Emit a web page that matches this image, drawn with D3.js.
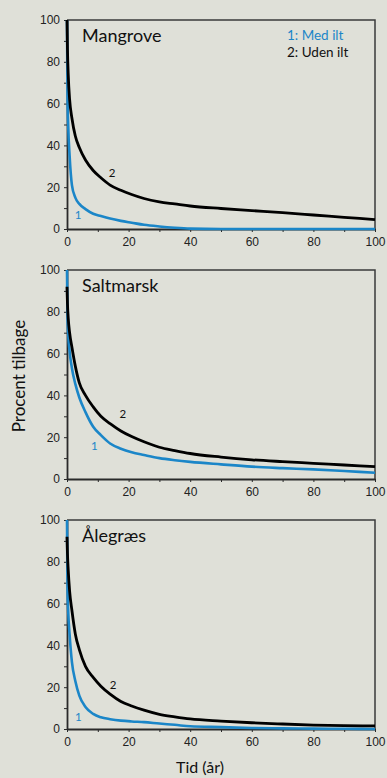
<!DOCTYPE html>
<html>
<head>
<meta charset="utf-8">
<script src="https://cdn.jsdelivr.net/npm/d3@7"></script>
<style>
  body { margin: 0; background: #dfe0d8; }
  svg { display: block; }
  .tick text { font-family: "Liberation Sans", Arial, sans-serif; font-size: 12px; fill: #222; }
  .lbl { font-family: Lato, "Open Sans", sans-serif; }
</style>
</head>
<body>
<svg id="chart" width="387" height="778"></svg>
<script>
// Data: tid (år) and procent tilbage
const years = [0, 0.15, 0.4, 0.85, 1.6, 2.7, 4, 6, 8.5, 11, 14, 17.5, 21, 25, 30, 35, 40, 50, 60, 70, 80, 90, 100];

const panelNames = ["Mangrove", "Saltmarsk", "Ålegræs"];

// 1: Med ilt (blue), 2: Uden ilt (black)
const mangroveMed  = [100, 65, 49, 35, 21, 15, 12, 9.5, 7.3, 6.2, 5, 3.9, 3.0, 2.0, 1.2, 0.6, 0.2, 0, 0, 0, 0, 0, 0];
const mangroveUden = [100, 86, 74, 62, 53, 44.5, 39, 33, 28, 24.5, 21, 18.5, 16.5, 14.6, 13, 12, 11, 9.8, 8.8, 7.8, 6.7, 5.6, 4.5];

const saltMed  = [100, 78, 69, 61, 53, 45.5, 39, 32, 25, 21, 17, 14.5, 12.8, 11.5, 10, 9, 8.2, 7, 5.9, 5.2, 4.6, 3.8, 3.0];
const saltUden = [92, 84, 77, 70, 63, 54, 46, 40, 34.5, 30, 26.5, 23, 20.3, 17.8, 15.2, 13.6, 12.2, 10.5, 9.2, 8.3, 7.5, 6.7, 5.9];

const aleMed  = [100, 68, 56, 45, 32, 23, 16, 10.5, 7.2, 5.6, 4.7, 4.0, 3.6, 3.3, 2.6, 2.0, 1.3, 0.9, 0.5, 0.3, 0.2, 0.1, 0];
const aleUden = [92, 84, 76, 66, 56.7, 45.5, 38, 30, 24.7, 20.5, 16.7, 13.2, 11, 9, 7, 5.8, 4.8, 3.8, 3.0, 2.4, 1.9, 1.6, 1.5];

// curve label anchors in data units [år, procent]
const labelMed  = [[3.6, 6.7], [8.9, 15.9], [3.7, 5.9]];
const labelUden = [[14.6, 27], [18.1, 31], [15, 21]];

const seriesMed = [mangroveMed, saltMed, aleMed];
const seriesUden = [mangroveUden, saltUden, aleUden];

const xTicks = d3.range(0, 101, 10);
const yTicks = d3.range(0, 101, 10);

const BLUE = "#1b86c8";
const svg = d3.select("#chart");

const left = 67, right = 375, panelH = 209;
const panelTops = [20, 270, 520];

const x = d3.scaleLinear().domain([0, 100]).range([left, right]);

panelNames.forEach((name, i) => {
    const top = panelTops[i];
    const y = d3.scaleLinear().domain([0, 100]).range([top + panelH, top]);
    const g = svg.append("g");

    // frame top + right
    g.append("path")
        .attr("d", `M${left},${top}H${right}V${top + panelH}`)
        .attr("fill", "none")
        .attr("stroke", "#3a3a3a")
        .attr("stroke-width", 1.5);

    const fmt = d => (d % 20 === 0 ? d : "");

    const xAxis = g.append("g")
        .attr("transform", `translate(0,${top + panelH})`)
        .call(d3.axisBottom(x).tickValues(xTicks).tickFormat(fmt).tickSize(3).tickPadding(5).tickSizeOuter(0));
    const yAxis = g.append("g")
        .attr("transform", `translate(${left},0)`)
        .call(d3.axisLeft(y).tickValues(yTicks).tickFormat(fmt).tickSize(3).tickPadding(4).tickSizeOuter(0));
    [xAxis, yAxis].forEach(a => {
        a.select(".domain").attr("stroke", "#2a2a2a").attr("stroke-width", 1.8);
        a.selectAll(".tick line").attr("stroke", "#2a2a2a");
    });

    const line = d3.line()
        .x((d, j) => x(years[j]))
        .y(d => y(d))
        .curve(d3.curveMonotoneX);

    g.append("path")
        .datum(seriesMed[i])
        .attr("d", line)
        .attr("fill", "none")
        .attr("stroke", BLUE)
        .attr("stroke-width", 2.6);
    g.append("path")
        .datum(seriesUden[i])
        .attr("d", line)
        .attr("fill", "none")
        .attr("stroke", "#000")
        .attr("stroke-width", 2.8);

    g.append("text").attr("class", "lbl")
        .attr("x", x(labelMed[i][0])).attr("y", y(labelMed[i][1]))
        .attr("text-anchor", "middle").attr("dy", "0.35em")
        .attr("font-size", 11.5).attr("fill", BLUE)
        .text("1");
    g.append("text").attr("class", "lbl")
        .attr("x", x(labelUden[i][0])).attr("y", y(labelUden[i][1]))
        .attr("text-anchor", "middle").attr("dy", "0.35em")
        .attr("font-size", 11.5).attr("fill", "#111")
        .text("2");

    // panel title
    g.append("text").attr("class", "lbl")
        .attr("x", left + 15).attr("y", top + 22)
        .attr("font-size", 18).attr("fill", "#111")
        .text(name);
});

// legend in top panel
svg.append("text").attr("class", "lbl")
    .attr("x", 287).attr("y", 40)
    .attr("font-size", 13.5).attr("fill", BLUE)
    .text("1: Med ilt");
svg.append("text").attr("class", "lbl")
    .attr("x", 287).attr("y", 57)
    .attr("font-size", 13.5).attr("fill", "#111")
    .text("2: Uden ilt");

// axis titles
svg.append("text").attr("class", "lbl")
    .attr("transform", "translate(25,376) rotate(-90)")
    .attr("text-anchor", "middle")
    .attr("font-size", 17).attr("fill", "#111")
    .text("Procent tilbage");
svg.append("text").attr("class", "lbl")
    .attr("x", 200).attr("y", 773)
    .attr("text-anchor", "middle")
    .attr("font-size", 16).attr("fill", "#111")
    .text("Tid (år)");
</script>
</body>
</html>
